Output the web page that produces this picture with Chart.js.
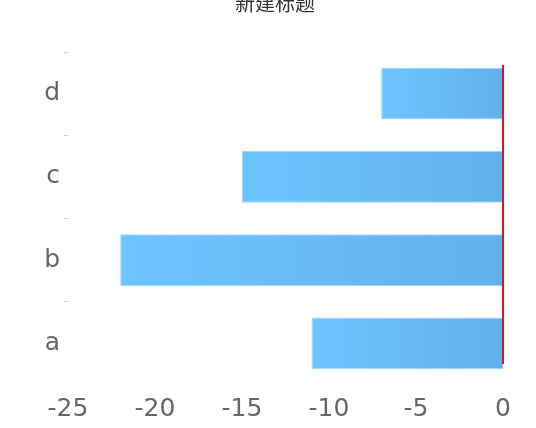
<!DOCTYPE html>
<html>
<head>
<meta charset="utf-8">
<script src="https://cdn.jsdelivr.net/npm/chart.js@4/dist/chart.umd.min.js"></script>
<style>
html,body{margin:0;padding:0;background:#fff;}
#wrap{width:536px;height:428px;position:relative;}
</style>
</head>
<body>
<div id="wrap"><canvas id="c" width="536" height="428"></canvas></div>
<script>
const categories = ['d', 'c', 'b', 'a'];
const values = [-7, -15, -22, -11];
const xTicks = [-25, -20, -15, -10, -5, 0];
const titleText = '新建标题';

const titlePlugin = {
  id: 'topTitle',
  afterDraw(chart) {
    const ctx = chart.ctx;
    ctx.save();
    ctx.font = '20px "Noto Sans CJK SC"';
    ctx.fillStyle = '#333';
    ctx.textAlign = 'center';
    ctx.textBaseline = 'alphabetic';
    ctx.fillText(titleText, 275, 11);
    ctx.restore();
  }
};

const zeroLine = {
  id: 'zeroLine',
  afterDatasetsDraw(chart) {
    const ctx = chart.ctx;
    const xs = chart.scales.x, a = chart.chartArea;
    const x = xs.getPixelForValue(0);
    ctx.save();
    ctx.strokeStyle = '#e8101a';
    ctx.lineWidth = 2;
    ctx.beginPath();
    ctx.moveTo(x, a.top + 13);
    ctx.lineTo(x, a.bottom - 21);
    ctx.stroke();
    ctx.restore();
  }
};

new Chart(document.getElementById('c'), {
  type: 'bar',
  data: {
    labels: categories,
    datasets: [{
      data: values,
      backgroundColor(ctx) {
        const chart = ctx.chart;
        if (!chart.chartArea || !ctx.parsed) return '#68bcf6';
        const xs = chart.scales.x;
        const x0 = xs.getPixelForValue(ctx.parsed.x);
        const x1 = xs.getPixelForValue(0);
        const g = chart.ctx.createLinearGradient(x0, 0, x1, 0);
        g.addColorStop(0, '#6dc5ff');
        g.addColorStop(1, '#63b1eb');
        return g;
      },
      borderColor: '#9dd6ff',
      borderWidth: 1,
      borderSkipped: false,
      categoryPercentage: 1,
      barPercentage: 0.62
    }]
  },
  options: {
    indexAxis: 'y',
    responsive: false,
    animation: false,
    layout: { padding: { top: 52, right: 33, left: 0, bottom: 0 } },
    plugins: { legend: { display: false }, tooltip: { enabled: false }, title: { display: false } },
    scales: {
      x: {
        min: -25, max: 0,
        afterFit(s) { s.height = 43; },
        afterBuildTicks(s) { s.ticks = xTicks.map(v => ({ value: v })); },
        border: { display: false },
        grid: { display: false },
        ticks: { color: '#666', font: { family: 'DejaVu Sans', size: 25 }, padding: 1, maxRotation: 0 }
      },
      y: {
        afterFit(s) { s.width = 68; },
        border: { display: false },
        grid: {
          drawOnChartArea: false, drawTicks: true, tickLength: 4, offset: true,
          color(c) { return c.tick ? '#d0d0d0' : 'rgba(0,0,0,0)'; }
        },
        ticks: { color: '#666', font: { family: 'DejaVu Sans', size: 25 }, padding: 4 }
      }
    }
  },
  plugins: [titlePlugin, zeroLine]
});
</script>
</body>
</html>
